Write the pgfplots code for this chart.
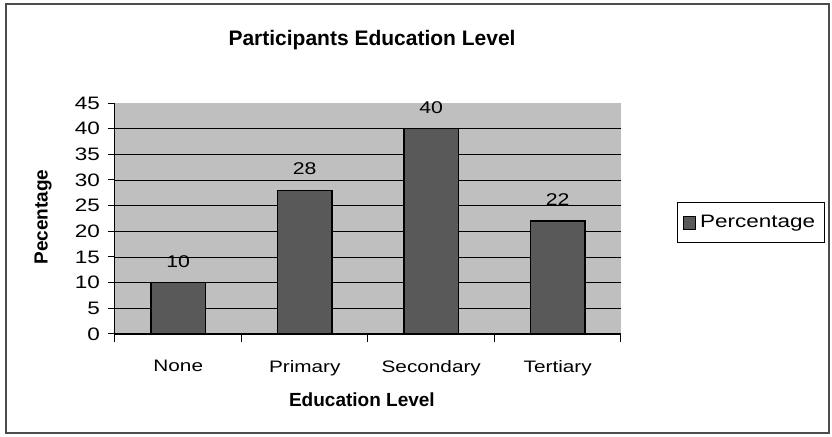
\documentclass[border=0pt]{standalone}
\usepackage{pgfplots}
\pgfplotsset{compat=1.18}
\usepackage{fontspec}
\setmainfont{Liberation Sans}
\newfontfamily\wide{Liberation Sans}[FakeStretch=1.25]
\begin{document}
\begin{tikzpicture}
\begin{axis}[
  at={(57.5pt,51.5pt)}, anchor=south west,
  scale only axis, width=253pt, height=115.5pt,
  ybar, bar width=0.43,
  xmin=-0.5, xmax=3.5, ymin=0, ymax=45,
  axis lines*=left,
  axis line style={black, line width=0.5pt},
  axis background/.style={fill=black!25},
  xtick={0,1,2,3},
  xticklabels={None,Primary,Secondary,Tertiary},
  major x tick style={draw=none},
  minor xtick={-0.5,0.5,1.5,2.5,3.5},
  minor x tick style={black, line width=0.5pt},
  tick align=outside,
  minor tick length=4pt,
  major tick length=3.5pt,
  ytick={0,5,...,40},
  extra y ticks={45},
  extra y tick style={grid=none},
  ymajorgrids,
  grid style={black, line width=0.45pt},
  y tick style={black, line width=0.5pt},
  /pgf/number format/assume math mode=true,
  xticklabel style={font=\wide\fontsize{8.3}{9}\selectfont, yshift=-6pt},
  yticklabel style={font=\wide\fontsize{9}{10}\selectfont, xshift=-0.5pt},
  title={Participants Education Level},
  title style={font=\bfseries\fontsize{10.5}{12}\selectfont, at={(0.508,1.221)}, anchor=center},
  xlabel={Education Level},
  xlabel style={font=\bfseries\fontsize{9.5}{11}\selectfont, at={(0.488,-0.286)}, anchor=center},
  ylabel={Pecentage},
  ylabel style={font=\bfseries\fontsize{9.5}{11}\selectfont, at={(-0.142,0.506)}, anchor=center},
  nodes near coords,
  nodes near coords style={font=\wide\fontsize{8.5}{9}\selectfont, yshift=4pt, black},
  legend style={at={(1.111,0.570)}, anchor=north west, draw=black, line width=0.5pt,
    font=\wide\fontsize{9}{10}\selectfont, inner xsep=2.5pt, inner ysep=4pt,
    legend cell align=left},
  legend image code/.code={\draw[fill=black!65, draw=black, line width=0.3pt] (0pt,-3.2pt) rectangle (6.4pt,3.2pt);},
]
\addplot[fill=black!65, draw=black, line width=0.6pt] coordinates {(0,10) (1,28) (2,40) (3,22)};
\addlegendentry{Percentage}
\end{axis}
\draw[black!70, line width=0.6pt] (3pt,2pt) rectangle (414.5pt,216.5pt);
\pgfresetboundingbox
\path (0pt,0pt) rectangle (416pt,218.5pt);
\end{tikzpicture}
\end{document}
